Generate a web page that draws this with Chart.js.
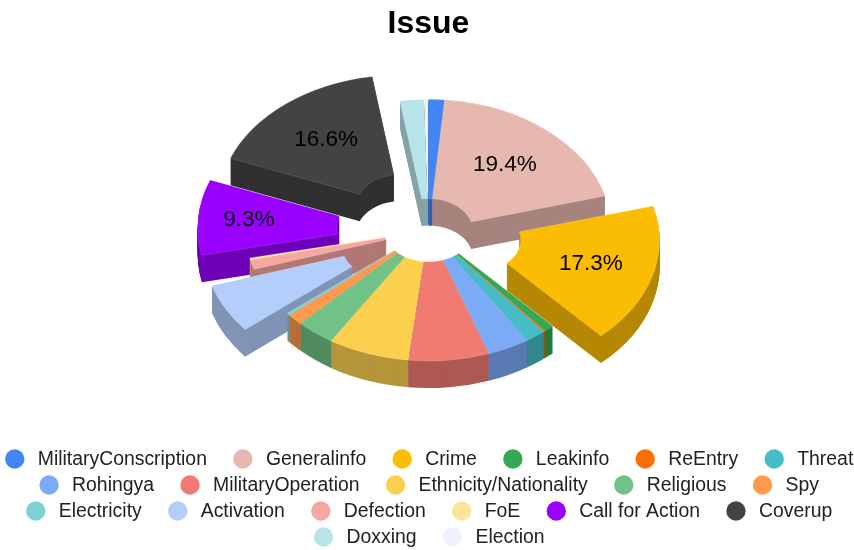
<!DOCTYPE html>
<html>
<head>
<meta charset="utf-8">
<title>Issue</title>
<script src="https://cdn.jsdelivr.net/npm/chart.js@4/dist/chart.umd.js"></script>
<style>
  html, body { margin: 0; padding: 0; background: #fff; }
  canvas { display: block; }
</style>
</head>
<body>
<canvas id="grafica" width="854" height="550"></canvas>
<script>
const labels = ['MilitaryConscription', 'Generalinfo', 'Crime', 'Leakinfo', 'ReEntry', 'Threat', 'Rohingya', 'MilitaryOperation', 'Ethnicity/Nationality', 'Religious', 'Spy', 'Electricity', 'Activation', 'Defection', 'FoE', 'Call for Action', 'Coverup', 'Doxxing', 'Election']
const values = [1.4, 19.4, 17.3, 0.9, 0.15, 1.8, 3.7, 7.1, 7.2, 3.4, 1.4, 0.3, 6.1, 1.15, 0.3, 9.3, 16.6, 2.1, 0.4]
const colors = ['#4285F4', '#E6B8AF', '#FBBC04', '#34A853', '#FF6D01', '#46BDC6', '#7BAAF7', '#F07B72', '#FCD04F', '#71C287', '#FF994D', '#7ED1D7', '#B3CEFB', '#F7A7A1', '#FDE49B', '#9900FF', '#434343', '#B7E4E8', '#ECF3FE']
// slices pulled out of the ring, px
const pulled = {'Crime': 50, 'Activation': 48, 'Call for Action': 48, 'Coverup': 44}

const FONT = '"Liberation Sans", Arial, sans-serif'
const TILT = 0.715
const DEPTH = 27
const MIN_LABEL = 9 // percent, smaller slices get no label

function darker(hex, f) {
    const n = parseInt(hex.slice(1), 16)
    const c = [n >> 16, (n >> 8) & 255, n & 255].map(v => Math.round(v * f))
    return 'rgb(' + c.join(',') + ')'
}

function midAngle(arc) {
    return (arc.startAngle + arc.endAngle) / 2
}

// the ring is flattened and stacked by hand, Chart.js only draws the arcs
const pie3d = {
    id: 'pie3d',
    beforeDatasetDraw(chart, args) {
        const ctx = chart.ctx
        const arcs = args.meta.data
        const order = arcs.map((a, i) => i).sort((a, b) => Math.sin(midAngle(arcs[a])) - Math.sin(midAngle(arcs[b])))
        order.forEach(i => {
            const arc = arcs[i]
            const pull = pulled[labels[i]] || 0
            const mid = midAngle(arc)
            const place = dy => {
                ctx.save()
                ctx.translate(arc.x, arc.y + dy)
                ctx.scale(1, TILT)
                ctx.translate(Math.cos(mid) * pull - arc.x, Math.sin(mid) * pull - arc.y)
            }
            const top = arc.options
            const wall = Object.create(top)
            wall.backgroundColor = darker(colors[i], 0.72)
            wall.borderWidth = 0
            arc.options = wall
            for (let dy = DEPTH; dy > 0; dy--) {
                place(dy)
                arc.draw(ctx)
                ctx.restore()
            }
            arc.options = top
            place(0)
            arc.draw(ctx)
            ctx.restore()
        })
        ctx.save()
        ctx.font = '22.5px ' + FONT
        ctx.fillStyle = '#000'
        ctx.textAlign = 'center'
        ctx.textBaseline = 'middle'
        arcs.forEach((arc, i) => {
            if (values[i] < MIN_LABEL) return
            const mid = midAngle(arc)
            // narrow slices push their label outwards
            const sweep = (arc.endAngle - arc.startAngle) * 180 / Math.PI
            const r = 119 + Math.max(0, 60 - sweep) * 0.5 + (pulled[labels[i]] || 0)
            ctx.fillText(values[i].toFixed(1) + '%', arc.x + Math.cos(mid) * r, arc.y + Math.sin(mid) * r * TILT)
        })
        ctx.restore()
        return false
    }
}

// legend rows need more air sideways than Chart.js padding gives
const legendRows = {
    id: 'legendRows',
    afterDraw(chart) {
        const ctx = chart.ctx
        const W = chart.width
        ctx.save()
        ctx.font = '19.4px ' + FONT
        ctx.textBaseline = 'middle'
        const rows = [[]]
        let used = 0
        labels.forEach((t, i) => {
            const w = 33 + ctx.measureText(t).width
            if (used + w > W - 4 && rows[rows.length - 1].length) {
                rows.push([])
                used = 0
            }
            rows[rows.length - 1].push({t, i, w})
            used += w + 26
        })
        rows.forEach((row, r) => {
            const total = row.reduce((s, it) => s + it.w, 0) + 26 * (row.length - 1)
            let x = (W - total) / 2 + 2
            const y = 459 + r * 26
            row.forEach(it => {
                ctx.fillStyle = colors[it.i]
                ctx.beginPath()
                ctx.arc(x + 10, y, 9.7, 0, Math.PI * 2)
                ctx.fill()
                ctx.fillStyle = '#222'
                ctx.fillText(it.t, x + 33, y + 0.5)
                x += it.w + 26
            })
        })
        ctx.restore()
    }
}

new Chart(document.getElementById('grafica'), {
    type: 'doughnut',
    data: {
        labels: labels,
        datasets: [{
            data: values,
            backgroundColor: colors,
            borderColor: 'rgba(255,255,255,0.25)',
            borderWidth: 0.6
        }]
    },
    options: {
        responsive: false,
        animation: false,
        events: [],
        radius: 183,
        cutout: 45,
        layout: {padding: {left: 3, bottom: 133}},
        plugins: {
            legend: {display: false},
            tooltip: {enabled: false},
            title: {
                display: true,
                text: 'Issue',
                color: '#000',
                font: {family: FONT, size: 32, weight: 'bold'},
                padding: {top: 5, bottom: 0}
            }
        }
    },
    plugins: [pie3d, legendRows]
})
</script>
</body>
</html>
